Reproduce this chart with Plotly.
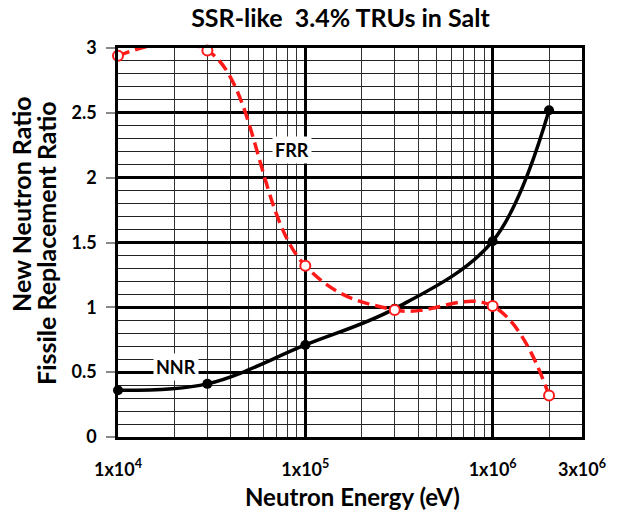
import plotly.graph_objects as go

energy = [1e4, 3e4, 1e5, 3e5, 1e6, 2e6]
nnr = [0.36, 0.41, 0.71, 0.99, 1.51, 2.52]
frr = [2.94, 2.98, 1.32, 0.98, 1.01, 0.32]

xtick_vals = [1e4, 1e5, 1e6, 3e6]
xtick_text = ["<b>1x10<sup>4</sup></b>", "<b>1x10<sup>5</sup></b>", "<b>1x10<sup>6</sup></b>", "<b>3x10<sup>6</sup></b>"]
ytick_vals = [0, 0.5, 1, 1.5, 2, 2.5, 3]
ytick_text = ["<b>0</b>", "<b>0.5</b>", "<b>1</b>", "<b>1.5</b>", "<b>2</b>", "<b>2.5</b>", "<b>3</b>"]

FONT = "Lato"
xr = [4, 6.477]

fig = go.Figure()
# FRR line (clipped)
fig.add_trace(go.Scatter(x=energy, y=frr, mode="lines", line=dict(color="#ff1a1a", width=3.5, dash="12px,6px", shape="spline", smoothing=1.15), hoverinfo="skip"))
# NNR
fig.add_trace(go.Scatter(x=energy, y=nnr, mode="lines+markers", line=dict(color="black", width=3.5, shape="spline", smoothing=1.0),
                         marker=dict(color="black", size=10), cliponaxis=False))
# FRR markers (not clipped)
fig.add_trace(go.Scatter(x=energy, y=frr, mode="markers", marker=dict(color="white", size=10, line=dict(color="#ff1a1a", width=2)), cliponaxis=False))

fig.update_layout(
    width=619, height=519,
    margin=dict(l=118, r=37, t=48, b=82),
    paper_bgcolor="white", plot_bgcolor="white",
    showlegend=False,
    font=dict(family=FONT, color="black"),
    title=dict(text="<b>SSR-like  3.4% TRUs in Salt</b>", x=0.55, xanchor="center", y=0.965, yanchor="middle",
               font=dict(size=25, family=FONT, color="black")),
    xaxis=dict(type="log", range=xr, dtick=1, showticklabels=False, ticks="",
               showgrid=True, gridcolor="black", gridwidth=2.5,
               minor=dict(showgrid=True, gridcolor="#333333", gridwidth=1.3, ticks=""),
               showline=True, linecolor="black", linewidth=2.5, mirror=True, zeroline=False),
    xaxis2=dict(type="log", range=xr, overlaying="x", side="bottom", tickmode="array",
                tickvals=xtick_vals, ticktext=xtick_text, showgrid=False, ticks="",
                ticklabelstandoff=20, tickfont=dict(size=18, family=FONT, color="black"),
                showline=False, zeroline=False, automargin=False),
    yaxis=dict(range=[0, 3], tickmode="array", tickvals=ytick_vals, ticktext=ytick_text,
               showgrid=True, gridcolor="black", gridwidth=2.5,
               minor=dict(dtick=0.1, showgrid=True, gridcolor="#222222", gridwidth=1.3),
               ticks="outside", ticklen=9, tickcolor="#888888", tickwidth=1.5,
               ticklabelstandoff=6, automargin=False,
               tickfont=dict(size=18, family=FONT, color="black"),
               showline=True, linecolor="black", linewidth=2.5, mirror=True, zeroline=False),
)
# dummy trace on xaxis2 so it renders
fig.add_trace(go.Scatter(x=[1e4], y=[0], xaxis="x2", mode="markers", marker=dict(opacity=0), hoverinfo="skip"))

fig.add_annotation(x=4.93, y=2.21, xref="x", yref="y", text="<b>FRR</b>", showarrow=False,
                   bgcolor="white", font=dict(size=18, family=FONT, color="black"), borderpad=2)
fig.add_annotation(x=4.31, y=0.54, xref="x", yref="y", text="<b>NNR</b>", showarrow=False,
                   bgcolor="white", font=dict(size=18, family=FONT, color="black"), borderpad=2)

fig.add_annotation(x=(21 - 118) / 464, y=(437 - 204) / 389, xref="paper", yref="paper", text="<b>New Neutron Ratio</b>",
                   xanchor="center", yanchor="middle",
                   textangle=-90, showarrow=False, font=dict(size=25, family=FONT, color="black"))
fig.add_annotation(x=(46 - 118) / 464, y=(437 - 243) / 389, xref="paper", yref="paper", text="<b>Fissile Replacement Ratio</b>",
                   xanchor="center", yanchor="middle",
                   textangle=-90, showarrow=False, font=dict(size=25, family=FONT, color="black"))
fig.add_annotation(x=(352 - 118) / 464, y=(437 - 496) / 389, xref="paper", yref="paper", text="<b>Neutron Energy (eV)</b>",
                   xanchor="center", yanchor="middle",
                   showarrow=False, font=dict(size=24, family=FONT, color="black"))

fig.write_html("out.html")
